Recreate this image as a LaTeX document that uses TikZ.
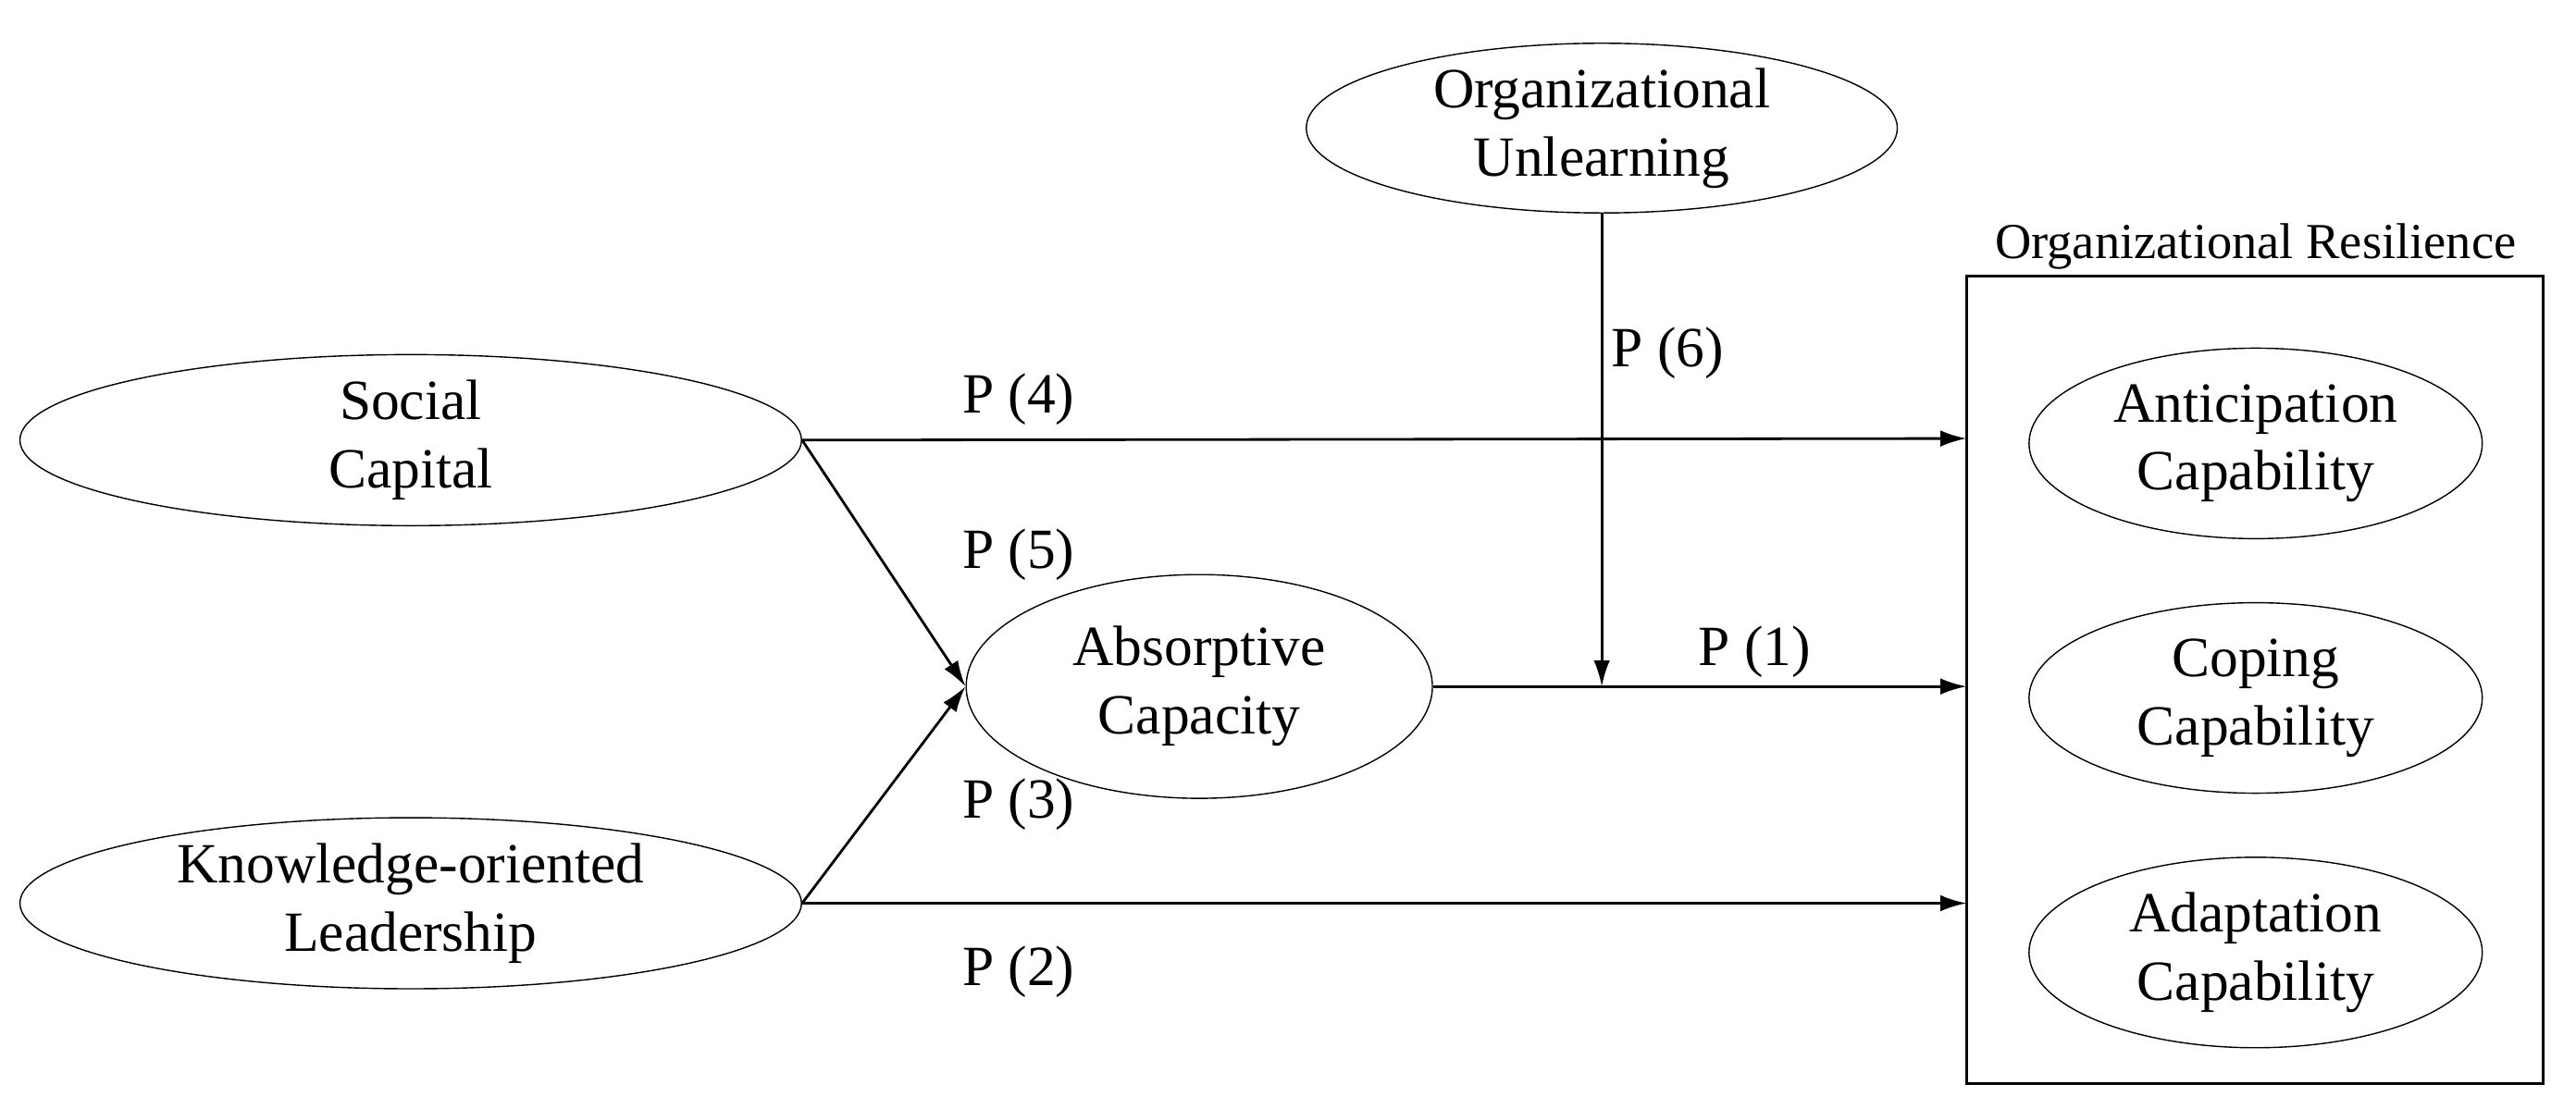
\documentclass[tikz,border=0pt]{standalone}
\usepackage{fontspec}
\setmainfont{Liberation Serif}
\usetikzlibrary{shapes.geometric,arrows.meta}

\tikzset{
  construct/.style={draw, ellipse, align=center, inner sep=0pt},
  path arrow/.style={-{Latex[length=8pt,width=5pt]}, line width=0.8pt},
  plabel/.style={inner sep=0pt}
}

\begin{document}
\begin{tikzpicture}[x=0.01776cm, y=-0.01776cm, font=\fontsize{17.5}{21}\selectfont]
  \useasboundingbox (0,0) rectangle (1568,675);

  % Constructs
  \node[construct, minimum width=8.45cm, minimum height=1.85cm] (social) at (250,268) {Social\\Capital};
  \node[construct, minimum width=8.45cm, minimum height=1.85cm] (know) at (250,550) {Knowledge-oriented\\Leadership};
  \node[construct, minimum width=5.04cm, minimum height=2.42cm] (absorb) at (730,418) {Absorptive\\Capacity};
  \node[construct, minimum width=6.39cm, minimum height=1.70cm] (unlearn) at (975,78) {Organizational\\Unlearning};

  % Resilience box
  \draw[line width=0.8pt] (1197,168) rectangle (1548,660);
  \node[font=\fontsize{15.5}{18}\selectfont] at (1373,150) {Organizational Resilience};
  \node[construct, minimum width=4.90cm, minimum height=2.06cm] (antic) at (1373,270) {Anticipation\\Capability};
  \node[construct, minimum width=4.90cm, minimum height=2.06cm] (coping) at (1373,425) {Coping\\Capability};
  \node[construct, minimum width=4.90cm, minimum height=2.06cm] (adapt) at (1373,580) {Adaptation\\Capability};

  \coordinate (in4) at (1197,267);
  \coordinate (in1) at (1197,418);
  \coordinate (in2) at (1197,550);
  \coordinate (mod) at (975,418);

  % Paths
  \draw[path arrow] (social.east) -- (in4);
  \draw[path arrow] (social.east) -- (absorb.west);
  \draw[path arrow] (know.east) -- (absorb.west);
  \draw[path arrow] (know.east) -- (in2);
  \draw[path arrow] (absorb.east) -- (in1);
  \draw[path arrow] (unlearn.south) -- (mod);

  % Labels
  \node[plabel] at (620,243) {P (4)};
  \node[plabel] at (620,338) {P (5)};
  \node[plabel] at (620,490) {P (3)};
  \node[plabel] at (620,592) {P (2)};
  \node[plabel] at (1068,397) {P (1)};
  \node[plabel] at (1015,215) {P (6)};
\end{tikzpicture}
\end{document}
